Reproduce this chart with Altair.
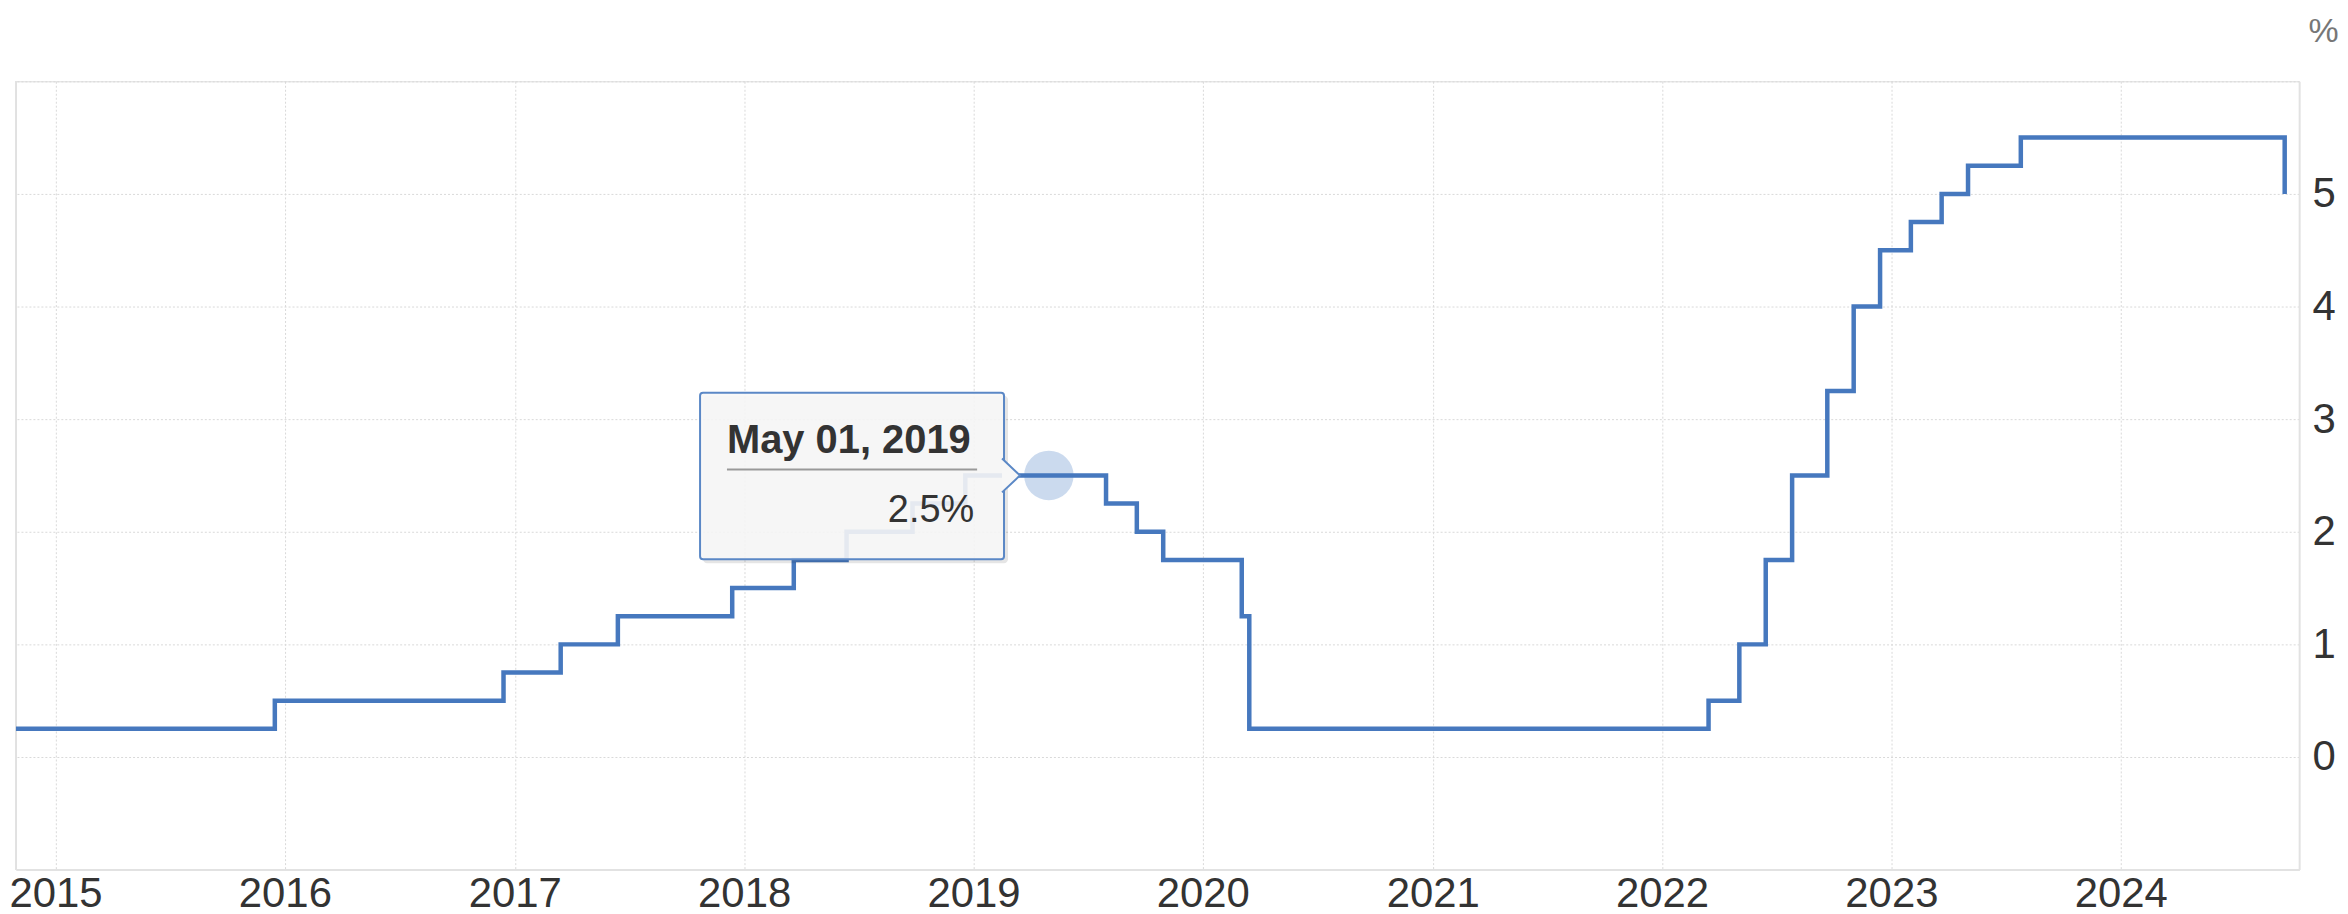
import altair as alt
import pandas as pd

# Fed funds rate (upper bound), step changes
dates = ["2014-10-30", "2015-12-16", "2016-12-14", "2017-03-15", "2017-06-14",
         "2017-12-13", "2018-03-21", "2018-06-13", "2018-09-26", "2018-12-19",
         "2019-07-31", "2019-09-18", "2019-10-30", "2020-03-03", "2020-03-15",
         "2022-03-16", "2022-05-04", "2022-06-15", "2022-07-27", "2022-09-21",
         "2022-11-02", "2022-12-14", "2023-02-01", "2023-03-22", "2023-05-03",
         "2023-07-26", "2024-09-18"]
rates = [0.25, 0.5, 0.75, 1.0, 1.25,
         1.5, 1.75, 2.0, 2.25, 2.5,
         2.25, 2.0, 1.75, 1.25, 0.25,
         0.5, 1.0, 1.75, 2.5, 3.25,
         4.0, 4.5, 4.75, 5.0, 5.25,
         5.5, 5.0]

year_ticks = list(range(2015, 2025))
y_ticks = [-1, 0, 1, 2, 3, 4, 5, 6]

hover_date = "2019-05-01"
hover_value = 2.5
hover_title = "May 01, 2019"
hover_label = "2.5%"

df = pd.DataFrame({"date": dates, "rate": rates})
hv = pd.DataFrame({"date": [hover_date], "rate": [hover_value],
                   "title": [hover_title], "label": [hover_label]})

W, H = 2291, 791
FONT = "Liberation Sans"
LINE = "#4678be"

x_enc = alt.X("date:T",
              scale=alt.Scale(type="utc", nice=False,
                              domain=[alt.DateTime(year=2014, month=10, date=30, utc=True),
                                      alt.DateTime(year=2024, month=10, date=11, utc=True)]),
              axis=alt.Axis(values=[alt.DateTime(year=y, month=1, date=1, utc=True) for y in year_ticks],
                            format="%Y", formatType="utc", title=None, ticks=False,
                            labelFontSize=42, labelColor="#333333", labelFont=FONT,
                            labelPadding=4, labelFlush=False,
                            grid=True, gridDash=[2, 2], gridColor="#d9d9d9", gridWidth=1,
                            domainColor="#e2e2e2", domainWidth=2))
y_enc = alt.Y("rate:Q",
              scale=alt.Scale(domain=[-1, 6], nice=False, zero=False),
              axis=alt.Axis(orient="right", values=y_ticks, format="d",
                            labelExpr="datum.value < 0 || datum.value > 5 ? '' : datum.label",
                            ticks=False, labelFontSize=42, labelColor="#333333", labelFont=FONT,
                            labelPadding=13,
                            grid=True, gridDash=[2, 2], gridColor="#d9d9d9", gridWidth=1,
                            domainColor="#e2e2e2", domainWidth=2,
                            title="%", titleAngle=0, titleX=24, titleY=-40,
                            titleAlign="center", titleBaseline="alphabetic",
                            titleFontSize=34, titleFontWeight="normal", titleColor="#777777",
                            titleFont=FONT))

left_edge = alt.Chart(df).mark_rule(color="#e2e2e2", strokeWidth=2).encode(
    x=alt.value(0), y=alt.value(0), y2=alt.value(H))

circle = alt.Chart(hv).mark_point(filled=True, size=2460, color="#b9cde8", opacity=0.75).encode(
    x="date:T", y="rate:Q")

line = alt.Chart(df).mark_line(interpolate="step-after", color=LINE, strokeWidth=4.5).encode(
    x=x_enc, y=y_enc)

shadow = alt.Chart(hv).mark_rect(fill="#000000", opacity=0.10, cornerRadius=4,
                                 xOffset=-347, x2Offset=-41, yOffset=-80, y2Offset=88).encode(
    x="date:T", x2="date:T", y="rate:Q", y2="rate:Q")

box = alt.Chart(hv).mark_rect(fill="#f7f7f7", fillOpacity=0.9, stroke="#5b88c6", strokeWidth=2,
                              cornerRadius=3,
                              xOffset=-350, x2Offset=-45, yOffset=-83, y2Offset=84).encode(
    x="date:T", x2="date:T", y="rate:Q", y2="rate:Q")

arrow = alt.Chart(hv).mark_point(shape="M 0 -1 L 1.06 0 L 0 1", size=1156, filled=False,
                                 fill="#f7f7f7", fillOpacity=1, stroke="#5b88c6", strokeWidth=2,
                                 opacity=1, xOffset=-47).encode(
    x="date:T", y="rate:Q")

title_txt = alt.Chart(hv).mark_text(align="left", baseline="alphabetic", dx=-323, dy=-23,
                                    fontSize=40, fontWeight="bold", font=FONT,
                                    color="#333333").encode(
    x="date:T", y="rate:Q", text="title:N")

underline = alt.Chart(hv).mark_rule(color="#999999", strokeWidth=2,
                                    xOffset=-323, x2Offset=-72, yOffset=-6, y2Offset=-6).encode(
    x="date:T", x2="date:T", y="rate:Q")

value_txt = alt.Chart(hv).mark_text(align="right", baseline="alphabetic", dx=-75, dy=47,
                                    fontSize=38, font=FONT, color="#333333").encode(
    x="date:T", y="rate:Q", text="label:N")

chart = alt.layer(left_edge, circle, line, shadow, box, arrow, title_txt, underline, value_txt).properties(
    width=W, height=H,
    autosize=alt.AutoSizeParams(type="none"),
    padding={"left": 8, "top": 72, "right": 41, "bottom": 46},
).configure_view(stroke=None).configure(background="#ffffff")

chart.save("out.html", embed_options={"renderer": "svg", "actions": False})
